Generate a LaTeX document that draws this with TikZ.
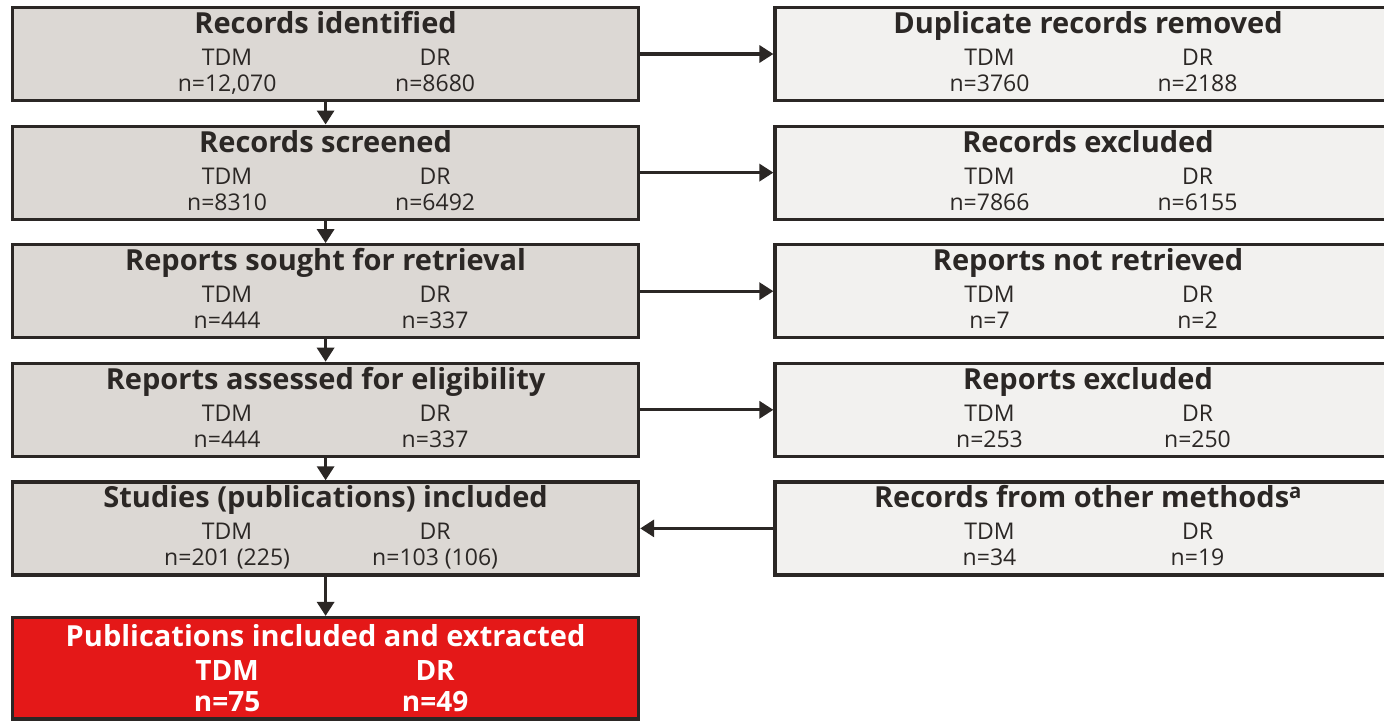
\documentclass[tikz,border=0pt]{standalone}
\usepackage{fontspec}
\setmainfont{Open Sans}
\usetikzlibrary{arrows.meta, positioning}

\definecolor{boxline}{HTML}{2B2725}
\definecolor{leftfill}{HTML}{DCD8D4}
\definecolor{rightfill}{HTML}{F2F1EF}
\definecolor{extractred}{HTML}{E41818}

\tikzset{
  flowbox/.style={draw=boxline, line width=3.2pt, minimum width=626pt, minimum height=93pt, inner sep=0pt},
  leftbox/.style={flowbox, fill=leftfill},
  rightbox/.style={flowbox, fill=rightfill},
  redbox/.style={flowbox, fill=extractred, minimum height=101.5pt},
  boxtitle/.style={anchor=base, inner sep=0pt, text=boxline, font=\fontsize{29}{32}\selectfont\bfseries},
  boxtext/.style={anchor=base, inner sep=0pt, text=boxline, font=\fontsize{23}{26}\selectfont},
  redtitle/.style={anchor=base, inner sep=0pt, text=white, font=\fontsize{29}{32}\selectfont\bfseries},
  redtext/.style={anchor=base, inner sep=0pt, text=white, font=\fontsize{28}{31}\selectfont\bfseries},
  flowarrow/.style={draw=boxline, line width=3.2pt, -{Triangle[length=14pt,width=17pt]}},
}

\begin{document}
\begin{tikzpicture}[x=1pt, y=-1pt]
  \useasboundingbox (0,0) rectangle (1384,721);
  \clip (0,0) rectangle (1384,721);

  \foreach \row/\ltitle/\la/\lb/\rtitle/\ra/\rb in {
    1/{Records identified}/{12,070}/8680/{Duplicate records removed}/3760/2188,
    2/{Records screened}/8310/6492/{Records excluded}/7866/6155,
    3/{Reports sought for retrieval}/444/337/{Reports not retrieved}/7/2,
    4/{Reports assessed for eligibility}/444/337/{Reports excluded}/253/250,
    5/{Studies (publications) included}/{201 (225)}/{103 (106)}/{Records from other methods\textsuperscript{a}}/34/19%
  }{
    \node[leftbox] (L\row) at (325.6, {54+118.6*(\row-1)}) {};
    \node[rightbox] (R\row) at (1088, {54+118.6*(\row-1)}) {};
    \node[boxtitle] at ([yshift=20.5pt]L\row.center) {\ltitle};
    \node[boxtext] at ([xshift=-98.5pt, yshift=-11.5pt]L\row.center) {TDM};
    \node[boxtext] at ([xshift=109.5pt, yshift=-11.5pt]L\row.center) {DR};
    \node[boxtext] at ([xshift=-98.5pt, yshift=-37.5pt]L\row.center) {n=\la};
    \node[boxtext] at ([xshift=109.5pt, yshift=-37.5pt]L\row.center) {n=\lb};
    \node[boxtitle] at ([yshift=20.5pt]R\row.center) {\rtitle};
    \node[boxtext] at ([xshift=-98.5pt, yshift=-11.5pt]R\row.center) {TDM};
    \node[boxtext] at ([xshift=109.5pt, yshift=-11.5pt]R\row.center) {DR};
    \node[boxtext] at ([xshift=-98.5pt, yshift=-37.5pt]R\row.center) {n=\ra};
    \node[boxtext] at ([xshift=109.5pt, yshift=-37.5pt]R\row.center) {n=\rb};
  }

  \node[redbox] (extracted) at (325.6, 668.25) {};
  \node[redtitle] at ([yshift=21.5pt]extracted.center) {Publications included and extracted};
  \node[redtext] at ([xshift=-98.5pt, yshift=-11.75pt]extracted.center) {TDM};
  \node[redtext] at ([xshift=109.5pt, yshift=-11.75pt]extracted.center) {DR};
  \node[redtext] at ([xshift=-98.5pt, yshift=-43.5pt]extracted.center) {n=75};
  \node[redtext] at ([xshift=109.5pt, yshift=-43.5pt]extracted.center) {n=49};

  \foreach \row in {1,...,4} {
    \draw[flowarrow] (L\row) -- (R\row);
  }
  \draw[flowarrow] (R5) -- (L5);
  \foreach \row [evaluate=\row as \nxt using int(\row+1)] in {1,...,4} {
    \draw[flowarrow] (L\row) -- (L\nxt);
  }
  \draw[flowarrow] (L5) -- (extracted);
\end{tikzpicture}
\end{document}
